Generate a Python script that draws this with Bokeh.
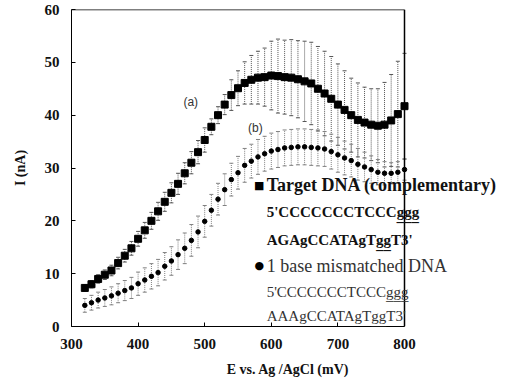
from bokeh.plotting import figure
from bokeh.models import ColumnDataSource, Whisker, TeeHead, Label, Range1d, FixedTicker
from bokeh.embed import file_html
from bokeh.resources import INLINE

E = [320, 330, 340, 350, 360, 370, 380, 390, 400, 410, 420, 430, 440, 450, 460, 470, 480, 490, 500,
     510, 520, 530, 540, 550, 560, 570, 580, 590, 600, 610, 620, 630, 640, 650, 660, 670, 680, 690,
     700, 710, 720, 730, 740, 750, 760, 770, 780, 790, 800]

target = [7.3, 8.0, 9.0, 9.8, 10.6, 12.0, 13.4, 14.8, 16.6, 18.2, 20.0, 21.8, 23.6, 25.3, 27.0, 29.0,
          31.0, 33.0, 35.3, 37.8, 40.0, 42.0, 43.8, 45.1, 46.1, 46.7, 47.1, 47.2, 47.5, 47.4, 47.2,
          47.1, 46.8, 46.4, 46.0, 45.0, 44.1, 43.1, 42.0, 41.0, 40.0, 39.1, 38.6, 38.2, 38.0, 38.2,
          39.0, 40.2, 41.7]
target_err = [0.6, 0.7, 0.8, 0.9, 1.0, 1.1, 1.2, 1.3, 1.4, 1.5, 1.6, 1.7, 1.8, 1.9, 2.0, 2.0, 2.1,
              2.2, 2.3, 1.5, 1.6, 1.9, 2.9, 3.3, 4.0, 4.6, 5.0, 5.5, 6.5, 7.0, 7.0, 7.2, 7.3, 7.6,
              7.8, 8.0, 8.0, 8.0, 7.7, 7.4, 7.0, 7.0, 6.7, 6.8, 7.0, 8.0, 8.7, 10.0, 10.0]

mismatch = [4.0, 4.5, 5.0, 5.4, 5.8, 6.3, 6.8, 7.3, 8.1, 8.8, 9.5, 10.2, 11.4, 12.4, 13.6, 14.8,
            16.3, 17.9, 19.9, 22.0, 24.1, 25.9, 27.8, 29.1, 30.5, 31.3, 32.1, 32.7, 33.2, 33.5,
            33.8, 33.9, 34.0, 34.0, 33.9, 33.8, 33.6, 33.1, 32.5, 31.9, 31.4, 30.7, 30.2, 29.7,
            29.2, 29.0, 29.0, 29.2, 29.7]
mismatch_err = [1.3, 1.4, 1.5, 1.6, 1.7, 1.8, 1.9, 2.0, 2.2, 2.3, 2.4, 2.5, 2.6, 2.7, 2.8, 2.9,
                3.0, 3.0, 3.0, 3.0, 3.0, 3.0, 3.1, 3.1, 3.2, 3.2, 3.3, 3.3, 3.4, 3.4, 3.4, 3.4,
                3.4, 3.4, 3.4, 3.4, 3.3, 3.3, 3.3, 3.2, 3.1, 3.0, 2.8, 2.6, 2.4, 2.2, 2.0, 2.0, 2.0]

x_ticks = [300, 400, 500, 600, 700, 800]
y_ticks = [0, 10, 20, 30, 40, 50, 60]

legend_lines = [
    ("\u25A0", "Target DNA (complementary)"),
    ("", "5'CCCCCCCTCCCg\u0332g\u0332g\u0332"),
    ("", "AGAgCCATAgTg\u0332g\u0332T3'"),
    ("\u25CF", "1 base mismatched DNA"),
    ("", "5'CCCCCCCTCCCg\u0332g\u0332g\u0332"),
    ("", "AAAgCCATAgTg\u0332g\u0332T3'"),
]
legend_y = [26.7, 21.6, 16.3, 11.5, 6.6, 1.9]

SERIF = "Liberation Serif"

# layout (pixels)
W, H = 504, 383
LEFT, TOP, AXIS_RIGHT, BOTTOM = 71, 9, 404, 326
x_end = x_ticks[0] + (x_ticks[-1] - x_ticks[0]) * (W - LEFT) / (AXIS_RIGHT - LEFT)

p = figure(width=W, height=H, output_backend="svg", toolbar_location=None,
           x_range=Range1d(x_ticks[0], x_end), y_range=Range1d(y_ticks[0], y_ticks[-1]),
           min_border_left=LEFT, min_border_right=0, min_border_top=TOP, min_border_bottom=H - BOTTOM)
p.xgrid.visible = False
p.ygrid.visible = False
p.outline_line_color = None
p.background_fill_color = "white"
p.border_fill_color = "white"

for ax in (p.xaxis[0], p.yaxis[0]):
    ax.major_tick_in = 4
    ax.major_tick_out = 0
    ax.minor_tick_in = 0
    ax.minor_tick_out = 0
    ax.axis_line_color = "black"
    ax.major_tick_line_color = "black"
    ax.major_label_text_font = SERIF
    ax.major_label_text_font_style = "bold"
    ax.major_label_text_font_size = "15px"
    ax.major_label_text_color = "#111111"
    ax.axis_label_text_font = SERIF
    ax.axis_label_text_font_style = "bold"
    ax.axis_label_text_font_size = "14px"
    ax.axis_label_text_color = "#111111"

p.xaxis[0].ticker = FixedTicker(ticks=x_ticks)
p.xaxis[0].bounds = (x_ticks[0], x_ticks[-1])
p.yaxis[0].ticker = FixedTicker(ticks=y_ticks)
p.xaxis[0].axis_label = "E vs. Ag /AgCl (mV)"
p.yaxis[0].axis_label = "I (nA)"
p.xaxis[0].major_label_standoff = 12
p.yaxis[0].major_label_standoff = 12
p.xaxis[0].axis_label_standoff = 10
p.yaxis[0].axis_label_standoff = 14

# top and right frame lines of the original box (300-800 mV, 0-60 nA)
p.segment(x0=[x_ticks[0], x_ticks[-1]], y0=[y_ticks[-1], y_ticks[0]],
          x1=[x_ticks[-1], x_ticks[-1]], y1=[y_ticks[-1], y_ticks[-1]],
          line_color="black", line_width=1.5)

src_a = ColumnDataSource(dict(x=E, y=target,
                              lo=[v - e for v, e in zip(target, target_err)],
                              hi=[v + e for v, e in zip(target, target_err)]))
src_b = ColumnDataSource(dict(x=E, y=mismatch,
                              lo=[v - e for v, e in zip(mismatch, mismatch_err)],
                              hi=[v + e for v, e in zip(mismatch, mismatch_err)]))

for src, col in ((src_a, "#555555"), (src_b, "#808080")):
    w = Whisker(base="x", lower="lo", upper="hi", source=src,
                line_color=col, line_width=1, line_dash="1 1",
                upper_head=TeeHead(size=4, line_color=col, line_width=1),
                lower_head=TeeHead(size=4, line_color=col, line_width=1))
    p.add_layout(w)

p.scatter("x", "y", source=src_a, marker="square", size=7, color="black")
p.scatter("x", "y", source=src_b, marker="circle", size=4.5, color="black")

p.add_layout(Label(x=479, y=42.4, text="(a)", text_font="Liberation Sans", text_font_size="12px",
                   text_color="#333333", text_align="center", text_baseline="middle"))
p.add_layout(Label(x=576, y=37.5, text="(b)", text_font="Liberation Sans", text_font_size="12px",
                   text_color="#333333", text_align="center", text_baseline="middle"))

for i, ((sym, txt), yy) in enumerate(zip(legend_lines, legend_y)):
    light = i >= 3
    colr = "#333333" if light else "#111111"
    size = "18px" if sym else "15px"
    if sym:
        p.add_layout(Label(x=582, y=yy, text=sym, text_font="DejaVu Sans", text_font_size="11px",
                           text_color="black", text_align="center", text_baseline="middle"))
    p.add_layout(Label(x=593, y=yy, text=txt, text_font=SERIF, text_font_size=size,
                       text_font_style="normal" if light else "bold",
                       text_color=colr, text_align="left", text_baseline="middle"))

open("out.html", "w").write(file_html(p, INLINE))
